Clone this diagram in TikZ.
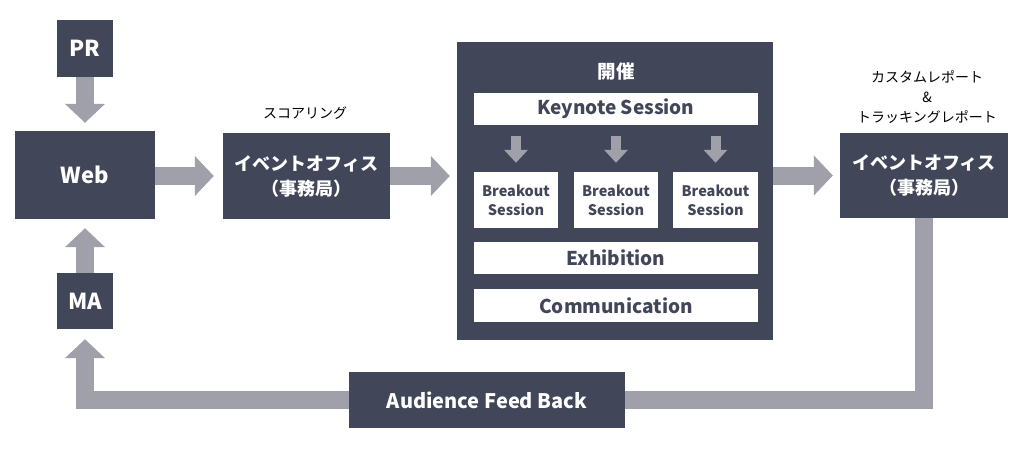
\documentclass[tikz,border=0pt]{standalone}
\usepackage{fontspec}
\setmainfont{Noto Sans CJK JP}
\usetikzlibrary{arrows.meta,backgrounds}
\definecolor{dk}{RGB}{66,70,89}
\definecolor{ag}{RGB}{160,160,171}
\tikzset{
  darkbox/.style={fill=dk,text=white,inner sep=0pt,font=\bfseries},
  whitebox/.style={fill=white,text=dk,inner sep=0pt,font=\bfseries},
  bigarrow/.style={draw=ag,line width=18pt,line join=miter,
    -{Triangle[width=39pt,length=19pt]}},
  smallarrow/.style={draw=ag,line width=10pt,
    -{Triangle[width=23pt,length=13pt]}},
  lbl/.style={text=black,inner sep=0pt,align=center},
}
\begin{document}
\begin{tikzpicture}[x=1pt,y=-1pt]
\useasboundingbox (0,0) rectangle (1024,474);
% left column
\node[darkbox,minimum width=56pt,minimum height=57pt,font=\fontsize{22}{26}\selectfont\bfseries] (pr) at (85,48.5) {PR};
\node[darkbox,minimum width=140pt,minimum height=88pt,font=\fontsize{22}{26}\selectfont\bfseries] (web) at (85,175) {Web};
\node[darkbox,minimum width=56pt,minimum height=56pt,font=\fontsize{22}{26}\selectfont\bfseries] (ma) at (85,301) {MA};
% office 1
\node[darkbox,minimum width=167pt,minimum height=86pt,align=center,font=\fontsize{18}{25}\selectfont\bfseries] (o1) at (306.5,176) {イベントオフィス\\（事務局）};
\node[lbl,font=\fontsize{14}{20}\selectfont] (sc) at (305,113) {スコアリング};
% event
\node[fill=dk,minimum width=316pt,minimum height=298pt,inner sep=0pt] (ev) at (615,191) {};
\node[lbl,text=white,font=\fontsize{18.5}{22}\selectfont\bfseries] (kaisai) at (616,72) {開催};
\node[whitebox,minimum width=284pt,minimum height=32pt,font=\fontsize{19}{22}\selectfont\bfseries] (key) at (616,109) {Keynote Session};
\node[whitebox,minimum width=84pt,minimum height=56pt,align=center,font=\fontsize{14.5}{19}\selectfont\bfseries] (b1) at (516,200) {Breakout\\Session};
\node[whitebox,minimum width=84pt,minimum height=56pt,align=center,font=\fontsize{14.5}{19}\selectfont\bfseries] (b2) at (616,200) {Breakout\\Session};
\node[whitebox,minimum width=85pt,minimum height=56pt,align=center,font=\fontsize{14.5}{19}\selectfont\bfseries] (b3) at (715.5,200) {Breakout\\Session};
\node[whitebox,minimum width=284pt,minimum height=32pt,font=\fontsize{19}{22}\selectfont\bfseries] (exh) at (616,258) {Exhibition};
\node[whitebox,minimum width=284pt,minimum height=33pt,font=\fontsize{19}{22}\selectfont\bfseries] (com) at (616,305.5) {Communication};
% office 2
\node[darkbox,minimum width=168pt,minimum height=85pt,align=center,font=\fontsize{18}{25}\selectfont\bfseries] (o2) at (924,175.5) {イベントオフィス\\（事務局）};
\node[lbl,font=\fontsize{14}{20}\selectfont] (rep) at (927,97) {カスタムレポート\\\&\\トラッキングレポート};
% feedback
\node[darkbox,minimum width=276pt,minimum height=56pt,font=\fontsize{20}{24}\selectfont\bfseries] (fb) at (487,400) {Audience Feed Back};
% connectors
\draw[bigarrow,shorten >=8pt] (pr.south) -- (web.north);
\draw[bigarrow,shorten >=9pt] (ma.north) -- (web.south);
\draw[bigarrow,shorten >=9pt] (web.east |- o1.west) -- (o1.west);
\draw[bigarrow,shorten >=7pt] (o1.east) -- (o1.east -| ev.west);
\draw[bigarrow,shorten >=7pt] (o2.west -| ev.east) -- (o2.west);
\draw[smallarrow,shorten <=11pt,shorten >=9pt] (b1.north |- key.south) -- (b1.north);
\draw[smallarrow,shorten <=11pt,shorten >=9pt] (b2.north |- key.south) -- (b2.north);
\draw[smallarrow,shorten <=11pt,shorten >=9pt] (b3.north |- key.south) -- (b3.north);
\begin{scope}[on background layer]
\draw[bigarrow,shorten >=10pt] (o2.south) |- (fb.center) -| (ma.south);
\end{scope}
\end{tikzpicture}
\end{document}
